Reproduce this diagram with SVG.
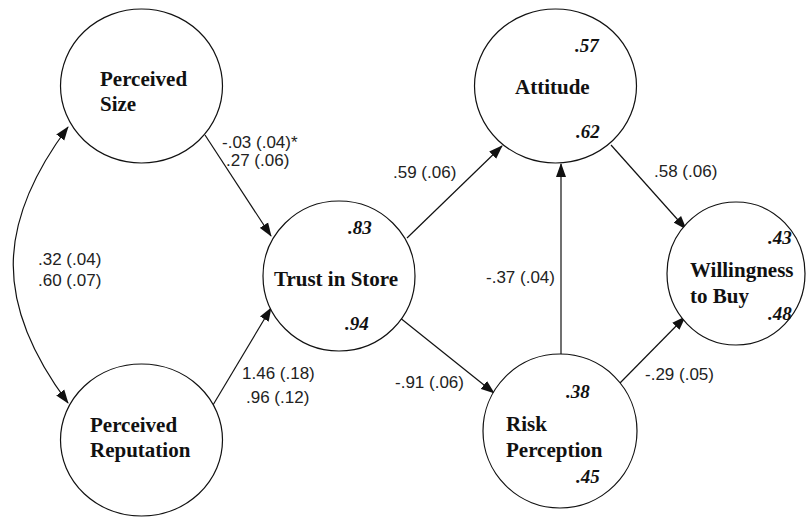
<svg xmlns="http://www.w3.org/2000/svg" width="808" height="517" viewBox="0 0 808 517">
<style>
.node{fill:#fff;stroke:#111;stroke-width:1.2}
.lbl{font-family:"Liberation Serif","Times New Roman",serif;font-weight:bold;font-size:21px;fill:#111}
.r2{font-family:"Liberation Serif","Times New Roman",serif;font-weight:bold;font-style:italic;font-size:19px;fill:#111}
.el{font-family:"Liberation Sans",Arial,sans-serif;font-size:17px;fill:#222}
.con path{fill:none;stroke:#111;stroke-width:1.2}
</style>
<defs>
<marker id="ah" markerUnits="userSpaceOnUse" markerWidth="14" markerHeight="11" refX="13" refY="5" orient="auto-start-reverse" viewBox="0 0 14 10">
<path d="M0,0 L14,5 L0,10 z" fill="#111"/>
</marker>
</defs>
<rect width="808" height="517" fill="#fff"/>
<g class="con">
<path d="M68,127 C -5,225 -5,305 68,403" marker-start="url(#ah)" marker-end="url(#ah)"/>
<path d="M205,135 L271,236" marker-end="url(#ah)"/>
<path d="M213,405 L271,308" marker-end="url(#ah)"/>
<path d="M407,238 L502,146" marker-end="url(#ah)"/>
<path d="M399,317 L494,393" marker-end="url(#ah)"/>
<path d="M561,355 L561,164" marker-end="url(#ah)"/>
<path d="M611,145 L686,229" marker-end="url(#ah)"/>
<path d="M620,383 L685,317" marker-end="url(#ah)"/>
</g>
<g id="edge-labels">
<text class="el" x="38" y="265">.32 (.04)</text>
<text class="el" x="38" y="286">.60 (.07)</text>
<text class="el" x="222" y="148">-.03 (.04)*</text>
<text class="el" x="226" y="166">.27 (.06)</text>
<text class="el" x="242" y="379">1.46 (.18)</text>
<text class="el" x="246" y="403">.96 (.12)</text>
<text class="el" x="393" y="178">.59 (.06)</text>
<text class="el" x="654" y="177">.58 (.06)</text>
<text class="el" x="486" y="283">-.37 (.04)</text>
<text class="el" x="395" y="388">-.91 (.06)</text>
<text class="el" x="645" y="380">-.29 (.05)</text>
</g>
<g id="perceived-size">
<ellipse class="node" cx="141.5" cy="86" rx="81" ry="77"/>
<text class="lbl" x="100" y="86">Perceived</text>
<text class="lbl" x="100" y="111">Size</text>
</g>
<g id="perceived-reputation">
<ellipse class="node" cx="141.5" cy="440" rx="81" ry="76"/>
<text class="lbl" x="90" y="432">Perceived</text>
<text class="lbl" x="90" y="457">Reputation</text>
</g>
<g id="trust-in-store">
<ellipse class="node" cx="339" cy="276" rx="76" ry="75"/>
<text class="r2" x="348" y="234">.83</text>
<text class="lbl" x="274" y="286">Trust in Store</text>
<text class="r2" x="345" y="330">.94</text>
</g>
<g id="attitude">
<ellipse class="node" cx="555.5" cy="86" rx="81" ry="77"/>
<text class="r2" x="575" y="52">.57</text>
<text class="lbl" x="515" y="94">Attitude</text>
<text class="r2" x="576" y="138">.62</text>
</g>
<g id="willingness">
<ellipse class="node" cx="736" cy="273.5" rx="69" ry="71.5"/>
<text class="r2" x="768" y="244">.43</text>
<text class="lbl" x="690" y="277">Willingness</text>
<text class="lbl" x="690" y="303">to Buy</text>
<text class="r2" x="768" y="320">.48</text>
</g>
<g id="risk-perception">
<ellipse class="node" cx="560" cy="431" rx="77" ry="77"/>
<text class="r2" x="566" y="398">.38</text>
<text class="lbl" x="506" y="431">Risk</text>
<text class="lbl" x="506" y="457">Perception</text>
<text class="r2" x="576" y="483">.45</text>
</g>
</svg>
